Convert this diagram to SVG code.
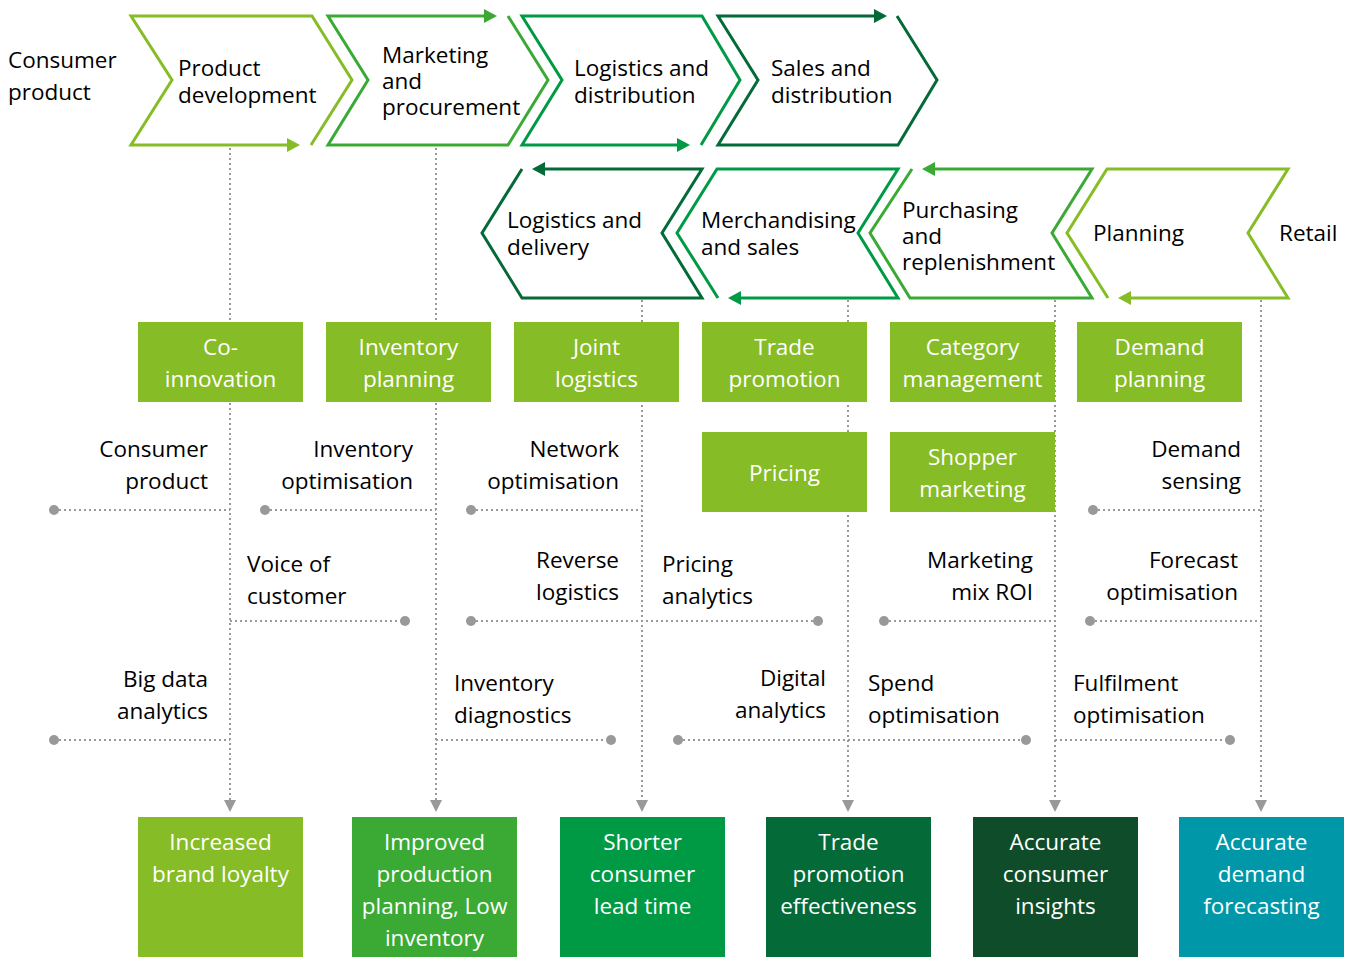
<svg xmlns="http://www.w3.org/2000/svg" width="1346" height="957" viewBox="0 0 1346 957">
<style>
text{font-family:"Open Sans","Liberation Sans",sans-serif;font-size:22.5px;fill:#000}
.w{fill:#fff;text-anchor:middle}
.r{text-anchor:end}
.chev{fill:none;stroke-width:3;stroke-linejoin:miter}
.dot{stroke:#97999b;stroke-width:2;stroke-dasharray:2 3;fill:none}
.pt{fill:#97999b}
</style>
<defs>
<marker id="aL" markerUnits="userSpaceOnUse" markerWidth="14" markerHeight="16" refX="0" refY="7" orient="auto"><path d="M0,0 L13,7 L0,14 z" fill="#86bc25"/></marker>
<marker id="aM" markerUnits="userSpaceOnUse" markerWidth="14" markerHeight="16" refX="0" refY="7" orient="auto"><path d="M0,0 L13,7 L0,14 z" fill="#3aaa35"/></marker>
<marker id="aG" markerUnits="userSpaceOnUse" markerWidth="14" markerHeight="16" refX="0" refY="7" orient="auto"><path d="M0,0 L13,7 L0,14 z" fill="#009a44"/></marker>
<marker id="aD" markerUnits="userSpaceOnUse" markerWidth="14" markerHeight="16" refX="0" refY="7" orient="auto"><path d="M0,0 L13,7 L0,14 z" fill="#046a38"/></marker>
<marker id="aY" markerUnits="userSpaceOnUse" markerWidth="14" markerHeight="14" refX="0" refY="6" orient="auto"><path d="M0,0 L12,6 L0,12 z" fill="#97999b"/></marker>
</defs>

<g id="connectors">
<line class="dot" x1="230" y1="148" x2="230" y2="800" marker-end="url(#aY)"/>
<line class="dot" x1="436" y1="148" x2="436" y2="800" marker-end="url(#aY)"/>
<line class="dot" x1="642" y1="300" x2="642" y2="800" marker-end="url(#aY)"/>
<line class="dot" x1="848" y1="300" x2="848" y2="800" marker-end="url(#aY)"/>
<line class="dot" x1="1055" y1="300" x2="1055" y2="800" marker-end="url(#aY)"/>
<line class="dot" x1="1261" y1="300" x2="1261" y2="800" marker-end="url(#aY)"/>
<line class="dot" x1="54" y1="510" x2="230" y2="510"/><circle class="pt" cx="54" cy="510" r="5"/>
<line class="dot" x1="265" y1="510" x2="436" y2="510"/><circle class="pt" cx="265" cy="510" r="5"/>
<line class="dot" x1="471" y1="510" x2="642" y2="510"/><circle class="pt" cx="471" cy="510" r="5"/>
<line class="dot" x1="1093" y1="510" x2="1264" y2="510"/><circle class="pt" cx="1093" cy="510" r="5"/>
<line class="dot" x1="230" y1="621" x2="405" y2="621"/><circle class="pt" cx="405" cy="621" r="5"/>
<line class="dot" x1="471" y1="621" x2="818" y2="621"/><circle class="pt" cx="471" cy="621" r="5"/><circle class="pt" cx="818" cy="621" r="5"/>
<line class="dot" x1="884" y1="621" x2="1055" y2="621"/><circle class="pt" cx="884" cy="621" r="5"/>
<line class="dot" x1="1090" y1="621" x2="1261" y2="621"/><circle class="pt" cx="1090" cy="621" r="5"/>
<line class="dot" x1="54" y1="740" x2="230" y2="740"/><circle class="pt" cx="54" cy="740" r="5"/>
<line class="dot" x1="436" y1="740" x2="611" y2="740"/><circle class="pt" cx="611" cy="740" r="5"/>
<line class="dot" x1="678" y1="740" x2="1026" y2="740"/><circle class="pt" cx="678" cy="740" r="5"/><circle class="pt" cx="1026" cy="740" r="5"/>
<line class="dot" x1="1055" y1="740" x2="1230" y2="740"/><circle class="pt" cx="1230" cy="740" r="5"/>
</g>

<g id="consumer-label"><text x="8" y="68">Consumer</text><text x="8" y="100">product</text></g>
<g id="retail-label"><text x="1279" y="241">Retail</text></g>

<g id="c-product-development">
<path class="chev" stroke="#86bc25" d="M311,145 L352,80 L312,16 L131,16 L172,80 L131,145 L287,145" marker-end="url(#aL)"/>
<text x="178" y="76">Product</text><text x="178" y="103">development</text>
</g>
<g id="c-marketing">
<path class="chev" stroke="#3aaa35" d="M508,16 L548,80 L508,145 L328,145 L368,80 L328,16 L484,16" marker-end="url(#aM)"/>
<text x="382" y="63">Marketing</text><text x="382" y="89">and</text><text x="382" y="115">procurement</text>
</g>
<g id="c-logistics-distribution">
<path class="chev" stroke="#009a44" d="M701,145 L740,80 L702,16 L522,16 L562,80 L522,145 L677,145" marker-end="url(#aG)"/>
<text x="574" y="76">Logistics and</text><text x="574" y="103">distribution</text>
</g>
<g id="c-sales-distribution">
<path class="chev" stroke="#046a38" d="M897,16 L937,80 L898,145 L718,145 L758,80 L718,16 L874,16" marker-end="url(#aD)"/>
<text x="771" y="76">Sales and</text><text x="771" y="103">distribution</text>
</g>

<g id="c-logistics-delivery">
<path class="chev" stroke="#046a38" d="M522,169 L482,233 L522,298 L702,298 L662,233 L702,169 L545,169" marker-end="url(#aD)"/>
<text x="507" y="228">Logistics and</text><text x="507" y="255">delivery</text>
</g>
<g id="c-merchandising">
<path class="chev" stroke="#009a44" d="M718,298 L677,233 L717,169 L898,169 L858,233 L898,298 L741,298" marker-end="url(#aG)"/>
<text x="701" y="228">Merchandising</text><text x="701" y="255">and sales</text>
</g>
<g id="c-purchasing">
<path class="chev" stroke="#3aaa35" d="M912,169 L870,233 L910,298 L1092,298 L1052,233 L1092,169 L935,169" marker-end="url(#aM)"/>
<text x="902" y="218">Purchasing</text><text x="902" y="244">and</text><text x="902" y="270">replenishment</text>
</g>
<g id="c-planning">
<path class="chev" stroke="#86bc25" d="M1108,298 L1067,233 L1107,169 L1288,169 L1248,233 L1288,298 L1131,298" marker-end="url(#aL)"/>
<text x="1093" y="241">Planning</text>
</g>

<g id="b-co-innovation"><rect x="138" y="322" width="165" height="80" fill="#86bc25"/><text class="w" x="220.5" y="355">Co-</text><text class="w" x="220.5" y="387">innovation</text></g>
<g id="b-inventory-planning"><rect x="326" y="322" width="165" height="80" fill="#86bc25"/><text class="w" x="408.5" y="355">Inventory</text><text class="w" x="408.5" y="387">planning</text></g>
<g id="b-joint-logistics"><rect x="514" y="322" width="165" height="80" fill="#86bc25"/><text class="w" x="596.5" y="355">Joint</text><text class="w" x="596.5" y="387">logistics</text></g>
<g id="b-trade-promotion"><rect x="702" y="322" width="165" height="80" fill="#86bc25"/><text class="w" x="784.5" y="355">Trade</text><text class="w" x="784.5" y="387">promotion</text></g>
<g id="b-category-management"><rect x="890" y="322" width="165" height="80" fill="#86bc25"/><text class="w" x="972.5" y="355">Category</text><text class="w" x="972.5" y="387">management</text></g>
<g id="b-demand-planning"><rect x="1077" y="322" width="165" height="80" fill="#86bc25"/><text class="w" x="1159.5" y="355">Demand</text><text class="w" x="1159.5" y="387">planning</text></g>
<g id="b-pricing"><rect x="702" y="432" width="165" height="80" fill="#86bc25"/><text class="w" x="784.5" y="481">Pricing</text></g>
<g id="b-shopper-marketing"><rect x="890" y="432" width="165" height="80" fill="#86bc25"/><text class="w" x="972.5" y="465">Shopper</text><text class="w" x="972.5" y="497">marketing</text></g>

<g id="labels">
<text class="r" x="208" y="457">Consumer</text><text class="r" x="208" y="489">product</text>
<text class="r" x="413" y="457">Inventory</text><text class="r" x="413" y="489">optimisation</text>
<text class="r" x="619" y="457">Network</text><text class="r" x="619" y="489">optimisation</text>
<text class="r" x="1241" y="457">Demand</text><text class="r" x="1241" y="489">sensing</text>
<text x="247" y="572">Voice of</text><text x="247" y="604">customer</text>
<text class="r" x="619" y="568">Reverse</text><text class="r" x="619" y="600">logistics</text>
<text x="662" y="572">Pricing</text><text x="662" y="604">analytics</text>
<text class="r" x="1033" y="568">Marketing</text><text class="r" x="1033" y="600">mix ROI</text>
<text class="r" x="1238" y="568">Forecast</text><text class="r" x="1238" y="600">optimisation</text>
<text class="r" x="208" y="687">Big data</text><text class="r" x="208" y="719">analytics</text>
<text x="454" y="691">Inventory</text><text x="454" y="723">diagnostics</text>
<text class="r" x="826" y="686">Digital</text><text class="r" x="826" y="718">analytics</text>
<text x="868" y="691">Spend</text><text x="868" y="723">optimisation</text>
<text x="1073" y="691">Fulfilment</text><text x="1073" y="723">optimisation</text>
</g>

<g id="o-brand-loyalty"><rect x="138" y="817" width="165" height="140" fill="#86bc25"/><text class="w" x="220.5" y="850">Increased</text><text class="w" x="220.5" y="882">brand loyalty</text></g>
<g id="o-production"><rect x="352" y="817" width="165" height="140" fill="#3aaa35"/><text class="w" x="434.5" y="850">Improved</text><text class="w" x="434.5" y="882">production</text><text class="w" x="434.5" y="914">planning, Low</text><text class="w" x="434.5" y="946">inventory</text></g>
<g id="o-lead-time"><rect x="560" y="817" width="165" height="140" fill="#009a44"/><text class="w" x="642.5" y="850">Shorter</text><text class="w" x="642.5" y="882">consumer</text><text class="w" x="642.5" y="914">lead time</text></g>
<g id="o-trade"><rect x="766" y="817" width="165" height="140" fill="#046a38"/><text class="w" x="848.5" y="850">Trade</text><text class="w" x="848.5" y="882">promotion</text><text class="w" x="848.5" y="914">effectiveness</text></g>
<g id="o-insights"><rect x="973" y="817" width="165" height="140" fill="#0f4d2a"/><text class="w" x="1055.5" y="850">Accurate</text><text class="w" x="1055.5" y="882">consumer</text><text class="w" x="1055.5" y="914">insights</text></g>
<g id="o-forecasting"><rect x="1179" y="817" width="165" height="140" fill="#0097a9"/><text class="w" x="1261.5" y="850">Accurate</text><text class="w" x="1261.5" y="882">demand</text><text class="w" x="1261.5" y="914">forecasting</text></g>
</svg>
